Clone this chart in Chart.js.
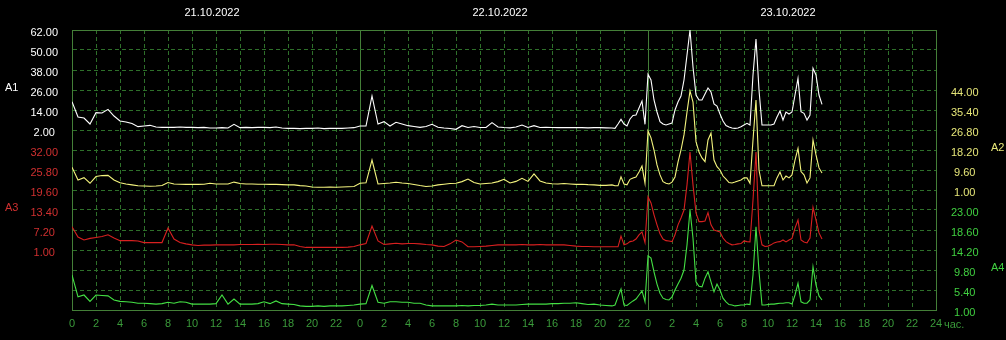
<!DOCTYPE html>
<html><head><meta charset="utf-8">
<script src="https://cdn.jsdelivr.net/npm/chart.js@4.4.1/dist/chart.umd.min.js"></script>
<style>html,body{margin:0;padding:0;background:#000;overflow:hidden}#c{display:block}</style>
</head><body>
<canvas id="c" width="1006" height="340"></canvas>
<script>
// ---- data ----
const hours = [
0,0.5,1,1.5,2,2.5,3,3.5,4,4.5,
5,5.5,6,6.5,7,7.5,8,8.5,9,9.5,
10,10.5,11,11.5,12,12.5,13,13.5,14,14.5,
15,15.5,16,16.5,17,17.5,18,18.5,19,19.5,
20,20.5,21,21.5,22,22.5,23,23.5,24,24.5,
25,25.5,26,26.5,27,27.5,28,28.5,29,29.5,
30,30.5,31,31.5,32,32.5,33,33.5,34,34.5,
35,35.5,36,36.5,37,37.5,38,38.5,39,39.5,
40,40.5,41,41.5,42,42.5,43,43.5,44,44.5,
45,
45.25,45.5,45.75,46,46.25,46.5,46.75,47,47.25,47.5,47.75,48,
48.25,48.5,48.75,49,49.25,49.5,49.75,50,50.25,50.5,50.75,51,
51.25,51.5,51.75,52,52.25,52.5,52.75,53,53.25,53.5,53.75,54,
54.25,54.5,54.75,55,55.25,55.5,55.75,56,56.25,56.5,56.75,57,
57.25,57.5,57.75,58,58.25,58.5,58.75,59,59.25,59.5,59.75,60,
60.25,60.5,60.75,61,61.25,61.5,61.75,62,62.25,62.5
];

const seriesA1 = [
19.0,9.8,9.2,5.6,12.4,12.2,14.4,10.4,7.4,6.8,
5.9,4.0,4.4,4.8,3.8,3.6,3.6,3.6,3.8,3.6,
3.6,3.4,3.6,3.2,3.2,3.4,3.2,5.4,3.4,3.6,
3.4,3.6,3.6,3.4,3.8,3.2,3.0,3.0,2.8,3.0,
3.0,3.2,2.8,3.0,3.0,3.0,3.2,3.4,4.4,4.4,
22.4,5.6,7.0,4.4,6.6,5.6,4.6,4.1,3.6,4.1,
5.4,3.6,3.2,2.9,2.4,4.6,3.5,4.1,3.5,3.5,
6.4,3.8,3.5,3.3,3.8,5.0,3.5,4.6,3.5,3.6,
3.5,3.4,3.5,3.4,3.4,3.4,3.3,3.4,3.4,3.3,
3.2,
3.0,5.6,8.4,5.6,4.4,8.6,10.7,11.0,15.2,19.4,5.4,35.4,
32.0,20.0,12.8,7.0,5.6,5.0,5.6,6.2,14.0,18.8,22.4,32.0,
47.0,62.0,39.8,23.0,20.0,20.0,23.6,27.2,24.8,17.6,16.4,11.6,
7.4,4.7,3.8,3.2,3.0,3.2,4.0,5.0,6.0,5.0,35.0,56.6,
26.0,5.0,5.0,5.0,5.0,5.6,9.8,13.4,8.0,12.8,11.6,12.8,
23.0,33.0,13.0,12.0,8.0,11.0,39.0,35.0,23.0,17.4
];

const seriesA2 = [
10.8,5.3,6.3,3.9,6.8,7.2,7.3,5.3,4.1,3.6,
3.2,2.8,2.7,2.6,2.7,2.9,4.2,3.6,3.5,3.4,
3.5,3.4,3.5,3.9,3.6,3.6,3.6,4.4,3.8,3.6,
3.6,3.5,3.5,3.4,3.4,3.3,3.2,3.2,2.9,2.7,
2.3,2.2,2.2,2.3,2.2,2.3,2.4,2.5,3.9,4.1,
13.9,3.6,3.8,4.0,4.3,4.0,3.8,3.4,2.9,2.5,
2.7,3.2,3.5,3.8,3.9,4.6,5.7,4.2,3.6,3.8,
4.0,4.6,5.6,4.0,4.7,6.0,4.7,7.9,4.9,4.0,
3.7,3.6,3.8,3.6,3.4,3.5,3.3,3.2,3.0,3.0,
3.2,
2.8,2.8,6.7,3.6,3.2,5.6,6.2,6.6,8.7,11.3,3.9,26.4,
23.4,18.2,11.8,7.5,4.6,3.9,3.6,4.4,6.6,13.0,18.2,24.7,
34.5,43.6,38.8,21.8,17.3,14.8,13.2,22.5,25.5,13.9,11.0,9.6,
7.0,5.7,4.2,4.0,4.4,4.9,5.3,6.2,6.2,3.9,22.5,39.7,
9.6,2.8,2.8,2.8,2.8,2.8,6.2,8.7,5.3,7.0,6.2,7.5,
13.9,18.9,8.9,7.5,4.0,6.2,22.5,16.1,10.5,8.3
];

const seriesA3 = [
8.2,5.0,4.1,4.6,4.9,5.2,5.7,4.7,3.9,3.9,
3.9,3.8,3.3,3.3,3.3,3.3,7.8,4.4,3.3,2.9,
2.6,2.4,2.5,2.5,2.6,2.6,2.6,2.6,2.7,2.7,
2.7,2.8,2.7,2.8,2.8,2.7,2.6,2.6,2.1,1.8,
1.8,1.8,1.8,1.8,1.8,1.8,1.9,2.1,2.6,3.0,
8.4,3.8,2.7,2.9,3.1,2.9,3.0,3.0,2.9,2.7,
2.6,2.2,2.1,2.9,4.1,3.5,2.0,2.0,2.1,2.2,
2.4,2.6,2.6,2.6,2.6,2.7,2.6,2.6,2.7,2.6,
2.6,2.6,2.6,2.4,2.2,2.1,2.1,2.0,2.0,2.0,
2.0,
2.0,2.0,5.3,2.6,2.9,3.6,3.8,4.4,5.7,6.6,3.3,17.5,
15.6,11.9,8.8,6.0,4.4,3.9,3.8,3.6,5.7,8.8,10.9,13.4,
21.2,31.4,21.2,12.5,9.8,9.8,10.0,12.6,8.8,7.2,6.9,6.6,
4.7,3.6,3.0,2.6,2.7,2.9,3.0,3.8,3.6,3.5,16.5,31.4,
7.2,2.6,2.1,2.2,2.6,3.2,3.5,3.6,4.1,3.5,4.1,4.6,
7.8,10.3,4.1,3.5,3.2,4.7,14.2,10.3,6.3,4.4
];

const seriesA4 = [
8.7,3.9,4.3,2.9,4.3,4.2,4.1,3.2,2.9,2.8,
2.7,2.5,2.5,2.4,2.3,2.4,2.7,2.5,2.8,2.7,
2.3,2.3,2.3,2.3,2.4,4.3,2.3,3.4,2.3,2.3,
2.3,2.4,2.8,2.4,3.0,2.4,2.3,2.2,1.9,1.8,
1.8,1.9,1.8,1.9,1.9,1.9,2.0,2.1,2.3,2.4,
6.4,2.7,2.5,2.8,2.8,2.7,2.7,2.5,2.5,2.1,
1.9,1.9,1.9,1.9,1.9,2.0,1.9,2.0,2.0,2.1,
2.3,2.1,2.1,2.1,2.1,2.2,2.3,2.3,2.3,2.3,
2.4,2.4,2.5,2.5,2.6,2.4,2.2,2.3,2.1,2.0,
1.9,
2.1,3.9,5.6,2.1,2.0,2.5,3.0,3.4,4.3,5.2,2.8,12.9,
12.4,9.4,6.7,4.7,3.6,3.3,3.2,3.9,5.4,6.7,8.0,9.8,
15.3,23.0,16.8,7.2,6.2,6.1,8.0,9.4,7.2,5.0,6.7,5.4,
3.6,2.8,2.2,2.1,1.9,2.0,2.1,2.1,2.3,2.2,8.7,19.3,
9.4,2.1,2.1,2.2,2.3,2.3,2.4,2.5,2.5,2.6,2.6,2.3,
4.3,6.9,2.8,2.5,2.5,3.2,10.5,6.5,4.1,3.2
];

// tick values of each series axis
const ticksA1 = [2, 14, 26, 38, 50, 62];
const ticksA3 = [1, 7.2, 13.4, 19.6, 25.8, 32];
const ticksA2 = [1, 9.6, 18.2, 26.8, 35.4, 44];
const ticksA4 = [1, 5.4, 9.8, 14.2, 18.6, 23];
const dateLabels = ['21.10.2022', '22.10.2022', '23.10.2022'];
const dateTicks = [12, 36, 60];
const hourLabels = ['0','2','4','6','8','10','12','14','16','18','20','22',
                    '0','2','4','6','8','10','12','14','16','18','20','22',
                    '0','2','4','6','8','10','12','14','16','18','20','22','24'];
const seriesNames = ['A1', 'A2', 'A3', 'A4'];

// ---- styling ----
const FONT = '"Liberation Sans", Arial, sans-serif';
const GRID_DASH = '#2e702a';
const GRID_SOLID = '#447f38';
const COL = { A1: '#ffffff', A2: '#f4f47e', A3: '#d82020', A4: '#44e044' };
const LBL = { A1: '#ffffff', A2: '#e6e678', A3: '#d03030', A4: '#40d040', X: '#3a9a3a' };
const UNITS = 14; // grid rows

const leftBlocks = [{ticks: ticksA3, base: 3, color: LBL.A3}, {ticks: ticksA1, base: 9, color: LBL.A1}];
const rightBlocks = [{ticks: ticksA4, base: 0, color: LBL.A4}, {ticks: ticksA2, base: 6, color: LBL.A2}];

function blockAt(blocks, unit) {
  for (const b of blocks) {
    const k = unit - b.base;
    if (k >= 0 && k < b.ticks.length) return {b, k};
  }
  return null;
}
function axisRange(ticks, base) {
  const step = ticks[1] - ticks[0];
  const min = ticks[0] - base * step;
  return {min, max: min + UNITS * step};
}
const rA1 = axisRange(ticksA1, 9), rA3 = axisRange(ticksA3, 3);
const rA2 = axisRange(ticksA2, 6), rA4 = axisRange(ticksA4, 0);

function pts(arr) { return hours.map((h, i) => ({x: h, y: arr[i]})); }

const titlePlugin = {
  id: 'titles',
  afterDraw(chart) {
    const c = chart.ctx;
    const a = chart.chartArea;
    c.save();
    c.font = '11px ' + FONT;
    c.textBaseline = 'middle';
    c.textAlign = 'left';
    c.fillStyle = LBL.A1; c.fillText(seriesNames[0], 5, 88);
    c.fillStyle = LBL.A3; c.fillText(seriesNames[2], 5, 208);
    c.fillStyle = LBL.A2; c.fillText(seriesNames[1], a.right + 55, 148);
    c.fillStyle = LBL.A4; c.fillText(seriesNames[3], a.right + 55, 268);
    c.fillStyle = LBL.X;  c.fillText('час.', a.right + 8, a.bottom + 15);
    c.restore();
  }
};

const ds = (name, data, axis) => ({
  label: name, data: pts(data), yAxisID: axis,
  borderColor: COL[name], borderWidth: 1.1, pointRadius: 0, tension: 0, fill: false
});

new Chart(document.getElementById('c'), {
  type: 'line',
  data: {
    datasets: [
      ds('A4', seriesA4, 'yA4'),
      ds('A3', seriesA3, 'yA3'),
      ds('A2', seriesA2, 'yA2'),
      ds('A1', seriesA1, 'yA1')
    ]
  },
  plugins: [titlePlugin],
  options: {
    responsive: false, animation: false, devicePixelRatio: 1,
    layout: {padding: 0},
    plugins: {legend: {display: false}, tooltip: {enabled: false}},
    scales: {
      x: {
        type: 'linear', position: 'bottom', min: 0, max: 72,
        ticks: {stepSize: 2, autoSkip: false, maxRotation: 0, padding: 7,
          color: LBL.X, font: {family: FONT, size: 11},
          callback: (v) => hourLabels[Math.round(v / 2)]},
        grid: {drawTicks: false,
          color: (ctx) => (ctx.tick && ctx.tick.value % 24 === 0) ? GRID_SOLID : GRID_DASH},
        border: {display: true, color: GRID_SOLID, width: 1,
          dash: (ctx) => (ctx.tick && ctx.tick.value % 24 === 0) ? [] : [4, 3]},
        afterFit: (s) => { s.height = 30; }
      },
      xTop: {
        type: 'linear', position: 'top', min: 0, max: 72,
        afterBuildTicks: (s) => { s.ticks = dateTicks.map(v => ({value: v})); },
        ticks: {autoSkip: false, maxRotation: 0, padding: 10, labelOffset: -4,
          color: '#ffffff', font: {family: FONT, size: 11},
          callback: (v, i) => dateLabels[i]},
        grid: {display: false, drawTicks: false},
        border: {display: true, color: GRID_SOLID},
        afterFit: (s) => { s.height = 30; }
      },
      yL: {
        position: 'left', min: 0, max: UNITS,
        ticks: {stepSize: 1, padding: 14, crossAlign: 'center', labelOffset: 3,
          font: {family: FONT, size: 11},
          color: (ctx) => { const r = blockAt(leftBlocks, ctx.tick.value); return r ? r.b.color : '#fff'; },
          callback: (v) => { const r = blockAt(leftBlocks, v); return r ? r.b.ticks[r.k].toFixed(2) : ''; }},
        grid: {drawTicks: false,
          color: (ctx) => (ctx.tick && (ctx.tick.value === 0 || ctx.tick.value === UNITS)) ? GRID_SOLID : GRID_DASH},
        border: {display: true, color: GRID_SOLID,
          dash: (ctx) => (ctx.tick && (ctx.tick.value === 0 || ctx.tick.value === UNITS)) ? [] : [4, 3]},
        afterFit: (s) => { s.width = 72; }
      },
      yR: {
        position: 'right', min: 0, max: UNITS,
        ticks: {stepSize: 1, padding: 15, crossAlign: 'center', labelOffset: 3,
          font: {family: FONT, size: 11},
          color: (ctx) => { const r = blockAt(rightBlocks, ctx.tick.value); return r ? r.b.color : '#fff'; },
          callback: (v) => { const r = blockAt(rightBlocks, v); return r ? r.b.ticks[r.k].toFixed(2) : ''; }},
        grid: {display: false, drawTicks: false},
        border: {display: true, color: GRID_SOLID},
        afterFit: (s) => { s.width = 70; }
      },
      yA1: {display: false, min: rA1.min, max: rA1.max},
      yA2: {display: false, min: rA2.min, max: rA2.max},
      yA3: {display: false, min: rA3.min, max: rA3.max},
      yA4: {display: false, min: rA4.min, max: rA4.max}
    }
  }
});
</script>
</body></html>
